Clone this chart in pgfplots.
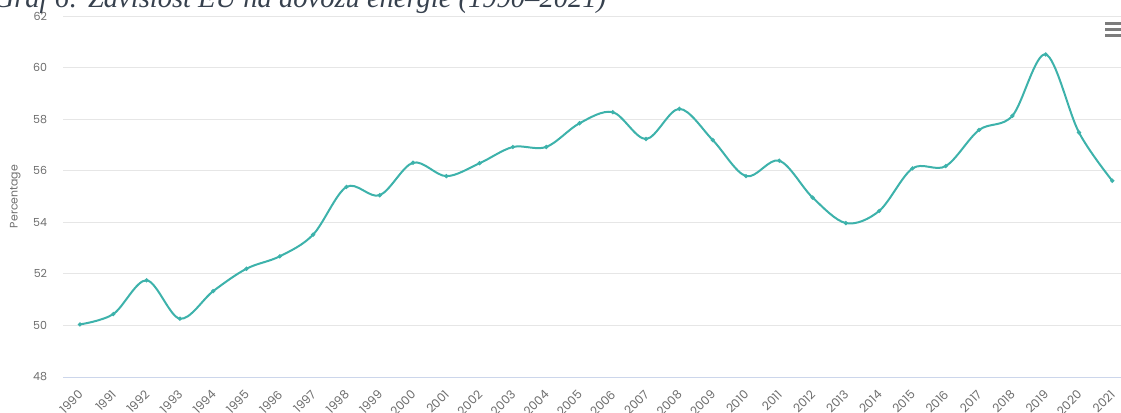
\documentclass[border=0pt]{standalone}
\usepackage{fontspec}
\usepackage{pgfplots}
\pgfplotsset{compat=1.18}
\setmainfont{Liberation Serif}
\newfontfamily\pop{Poppins}
\definecolor{lineteal}{RGB}{61,178,171}
\definecolor{gridgray}{RGB}{230,230,230}
\definecolor{axisblue}{RGB}{204,214,235}
\definecolor{tickgray}{RGB}{110,110,110}
\definecolor{titlecol}{RGB}{55,65,78}
\begin{document}
\begin{tikzpicture}
\useasboundingbox (0,0) rectangle (840.75pt,309pt);
\clip (0,0) rectangle (840.75pt,309pt);
% title (clipped by the page edge, as in the reference)
\node[anchor=base west, inner sep=0pt, text=titlecol, font=\fontsize{21.4}{24}\selectfont\itshape] at (-4.9pt,303.75pt) {Graf 6: Závislost EU na dovozu energie (1990–2021)};
% menu icon
\fill[tickgray!90] (828.75pt,290.5pt) rectangle (845pt,292.5pt);
\fill[tickgray!90] (828.75pt,286pt) rectangle (845pt,288pt);
\fill[tickgray!90] (828.75pt,281.5pt) rectangle (845pt,283.5pt);
\begin{axis}[
  at={(47.5pt,26.25pt)}, anchor=south west,
  scale only axis, width=799.2pt, height=270.75pt,
  xmin=1989.5, xmax=2021.5, ymin=48, ymax=62,
  xtick={1990,...,2021}, ytick={48,50,...,62},
  /pgf/number format/1000 sep={},
  /pgf/number format/assume math mode=true,
  axis x line*=bottom, axis y line*=left,
  x axis line style={draw=axisblue, line width=0.75pt, -},
  y axis line style={draw=none},
  major tick length=0pt,
  ymajorgrids, grid style={draw=gridgray, line width=0.75pt},
  yticklabel style={font=\pop\fontsize{8.3}{10}\selectfont, text=tickgray, inner sep=0pt, anchor=east, xshift=-12pt},
  xticklabel style={font=\pop\fontsize{9}{10}\selectfont, text=tickgray, inner sep=0pt, anchor=east, xshift=0.5pt, yshift=-11.5pt, rotate=45},
  ylabel={Percentage},
  every axis y label/.style={at={(axis description cs:0,0.5)}, xshift=-36pt, rotate=90, anchor=center, font=\pop\fontsize{8.2}{9}\selectfont, text=tickgray},
  clip=false,
]
\addplot[color=lineteal, line width=1.5pt, smooth, tension=0.55,
  mark=*, mark size=0.7pt, mark options={draw=none, fill=white!55!lineteal}]
coordinates {
(1990,50.04) (1991,50.44) (1992,51.75) (1993,50.26) (1994,51.33)
(1995,52.20) (1996,52.68) (1997,53.52) (1998,55.37) (1999,55.05)
(2000,56.31) (2001,55.79) (2002,56.29) (2003,56.92) (2004,56.92)
(2005,57.84) (2006,58.27) (2007,57.23) (2008,58.40) (2009,57.19)
(2010,55.79) (2011,56.39) (2012,54.96) (2013,53.97) (2014,54.44)
(2015,56.09) (2016,56.18) (2017,57.58) (2018,58.13) (2019,60.51)
(2020,57.48) (2021,55.61)
};
\end{axis}
\end{tikzpicture}
\end{document}
